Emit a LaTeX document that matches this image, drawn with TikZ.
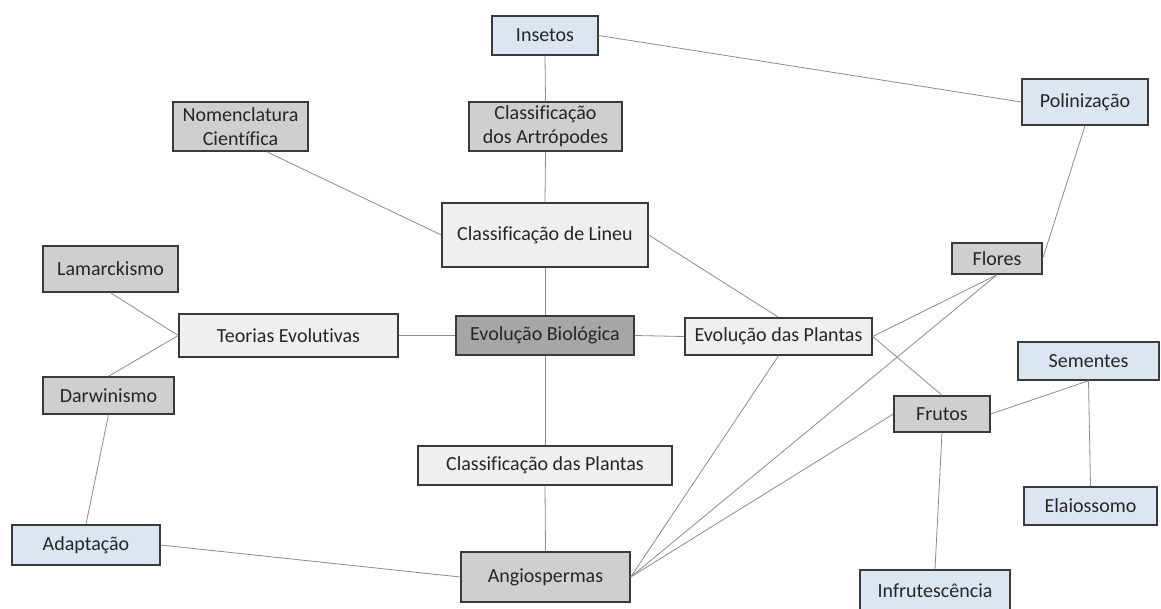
\documentclass[tikz,border=0pt]{standalone}
\usepackage{fontspec}
\setmainfont{Carlito}[Ligatures=NoCommon]
\usepackage{xcolor}
\definecolor{boxline}{HTML}{3A3A3A}
\definecolor{linegray}{HTML}{8C8C8C}
\definecolor{txt}{HTML}{262626}
\definecolor{bluefill}{HTML}{DCE6F2}
\definecolor{grayfill}{HTML}{D0CECE}
\definecolor{lightfill}{HTML}{EFEFEF}
\definecolor{darkfill}{HTML}{A6A6A6}
\newdimen\pxu \pxu=0.75pt

\begin{document}
\begin{tikzpicture}[x=\pxu, y=-\pxu,
        every node/.style={draw=boxline, line width=1.1pt, inner sep=0pt, align=center, text=txt,
          font=\fontsize{15}{18}\selectfont},
        bl/.style={fill=bluefill}, gr/.style={fill=grayfill},
        lt/.style={fill=lightfill}, dk/.style={fill=darkfill},
        sz/.style 2 args={minimum width=#1\pxu, minimum height=#2\pxu},
        ln/.style={draw=linegray, line width=0.6pt}]

        \fill[white] (0,0) rectangle (1161,608);
        \useasboundingbox (0,0) rectangle (1161,608);

        \node[dk, sz={178}{39}]  (evb) at (545,335.5) {Evolução Biológica};
        \node[lt, sz={206}{64}]  (lin) at (545,235) {Classificação de Lineu};
        \node[gr, sz={153}{49}]  (art) at (545.5,126.5) {Classificação\\dos Artrópodes};
        \node[bl, sz={106}{39}]  (ins) at (545,35.5) {Insetos};
        \node[gr, sz={135}{49}]  (nom) at (240.5,126.5) {Nomenclatura\\Científica};
        \node[bl, sz={126}{46}]  (pol) at (1085,102) {Polinização};

        \node[lt, sz={219}{43}]  (teo) at (288.5,335.5) {Teorias Evolutivas};
        \node[gr, sz={135}{46}]  (lam) at (110.5,269) {Lamarckismo};
        \node[gr, sz={131}{37}]  (dar) at (108.5,395.5) {Darwinismo};
        \node[bl, sz={148}{40}]  (ada) at (86,545) {Adaptação};

        \node[lt, sz={187}{37}]  (evp) at (778.5,336.5) {Evolução das Plantas};
        \node[gr, sz={90}{31}]   (flo) at (997,258.5) {Flores};
        \node[gr, sz={96}{36}]   (fru) at (942,414) {Frutos};
        \node[bl, sz={141}{38}]  (sem) at (1088.5,361) {Sementes};
        \node[bl, sz={133}{38}]  (ela) at (1090.5,506) {Elaiossomo};
        \node[bl, sz={150}{42}]  (inf) at (935,591) {Infrutescência};

        \node[lt, sz={254}{39}]  (clp) at (545,465.5) {Classificação das Plantas};
        \node[gr, sz={169}{50}]  (ang) at (545.5,577) {Angiospermas};

        \path[ln]
          (ins.south) edge (art.north)
          (ins.east) edge (pol.west)
          (art.south) edge (lin.north)
          (nom.-44) edge (lin.west)
          (lin.south) edge (evb.north)
          (lin.east) edge (evp.north)

          (lam.south) edge (teo.west)
          (dar.north) edge (teo.west)
          (dar.south) edge (ada.north)
          (teo.east) edge (evb.west)
          (evb.east) edge (evp.west)
          (evb.south) edge (clp.north)
          (clp.south) edge (ang.north)
          (ada.east) edge (ang.west)

          (evp.south) edge (ang.east)
          (evp.east) edge (flo.south)
          (evp.east) edge (fru.north)
          (flo.south) edge (ang.east)
          (fru.west) edge (ang.east)
          (pol.south) edge (flo.east)
          (fru.east) edge (sem.south)
          (sem.south) edge (ela.north)
          (fru.south) edge (inf.north);

      \end{tikzpicture}
\end{document}
